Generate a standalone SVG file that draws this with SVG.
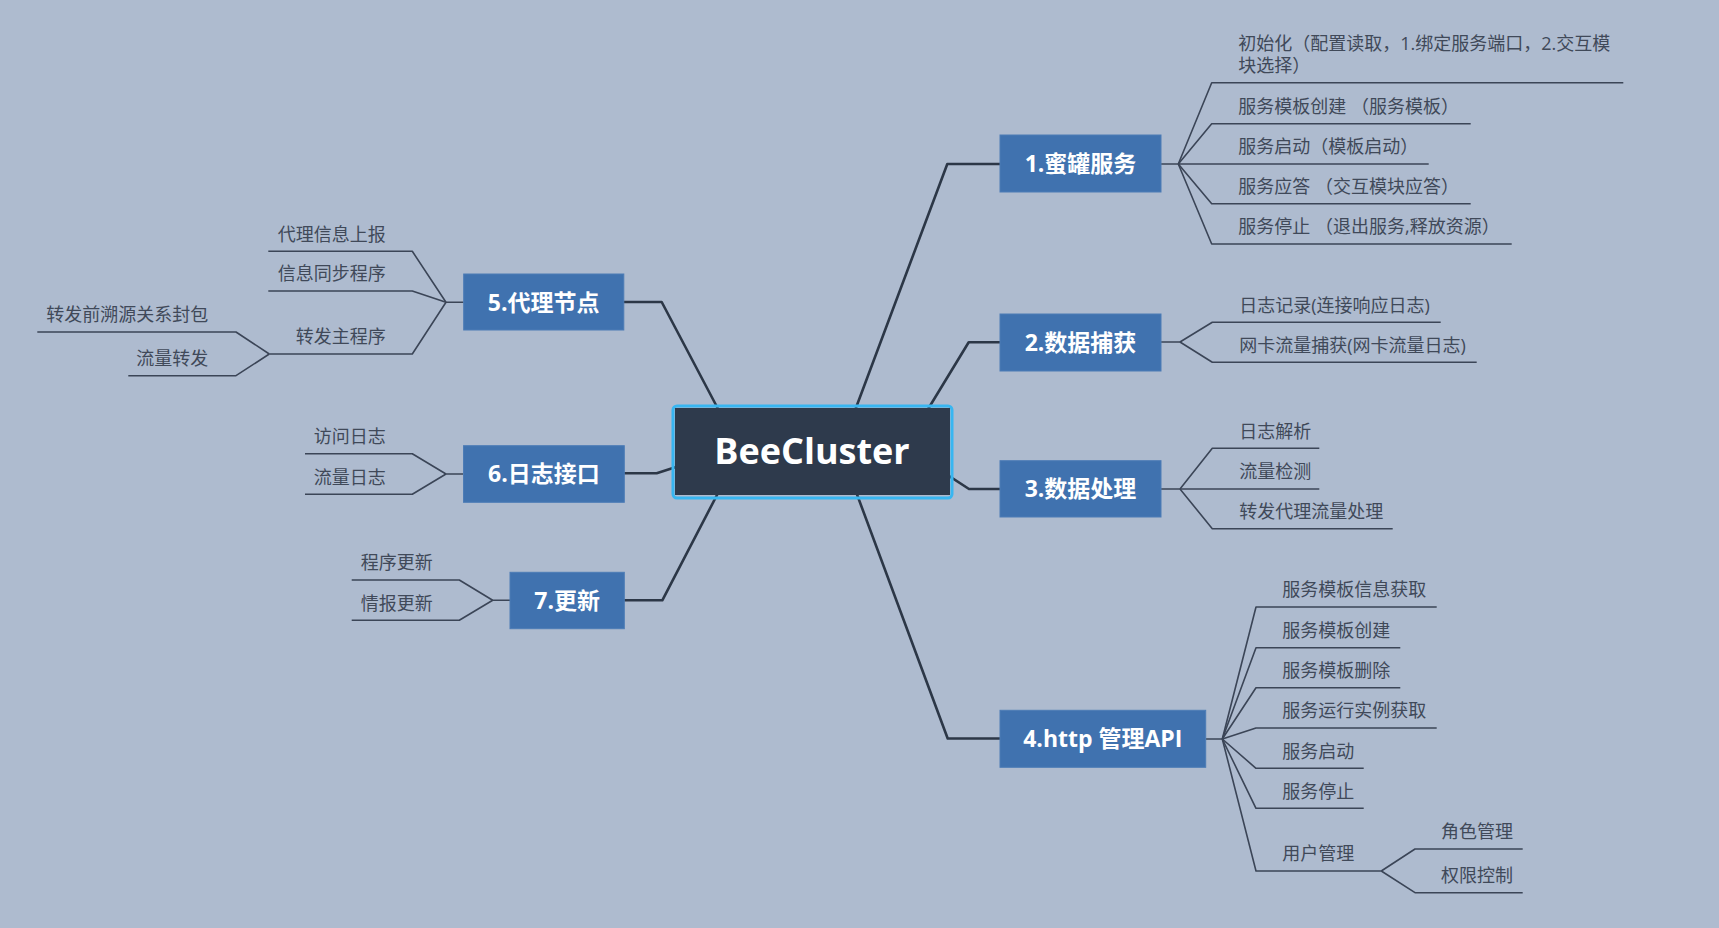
<svg xmlns="http://www.w3.org/2000/svg" width="1719" height="928" viewBox="0 0 1719 928">
<style>
.bg{fill:#aebbcf}
.main{fill:#4072af;stroke:#4d7cb6;stroke-width:1}
.mt{font-family:"Open Sans","Noto Sans CJK SC",sans-serif;font-weight:bold;font-size:23px;fill:#ffffff;text-anchor:middle}
.ct{font-family:"Open Sans","Noto Sans CJK SC",sans-serif;font-weight:bold;font-size:36px;fill:#ffffff;text-anchor:middle}
.st{font-family:"Open Sans","Noto Sans CJK SC",sans-serif;font-size:18px;fill:#404959}
.sr{text-anchor:start}
.sl{text-anchor:end}
.conn{fill:none;stroke:#2c3747;stroke-width:2.6;stroke-linejoin:round;stroke-linecap:round}
.sub{fill:none;stroke:#3b4557;stroke-width:1.6;stroke-linejoin:round}
</style>
<rect class="bg" x="0" y="0" width="1719" height="928"/>
<g id="connectors">
  <polyline class="conn" points="1000,164 947.3,164 851.4,420"/>
  <polyline class="conn" points="1000,342.3 968.7,342.3 921.4,420"/>
  <polyline class="conn" points="1000,489 969,489 940,470.1"/>
  <polyline class="conn" points="1000,738.5 947.7,738.5 853.5,485"/>
  <polyline class="conn" points="623.8,302 661.7,302 723.9,420"/>
  <polyline class="conn" points="624.3,473.3 656.7,473.3 690,462.4"/>
  <polyline class="conn" points="624.3,600.3 662.3,600.3 722.2,485"/>
  <!-- branch 1 -->
  <polyline class="sub" points="1161,164 1178.3,164 1211.7,82.7 1623.3,82.7"/>
  <polyline class="sub" points="1178.3,164 1211.7,123.7 1470.7,123.7"/>
  <polyline class="sub" points="1178.3,164 1428.7,164"/>
  <polyline class="sub" points="1178.3,164 1211.7,203.7 1470.7,203.7"/>
  <polyline class="sub" points="1178.3,164 1211.7,244 1511.7,244"/>
  <!-- branch 2 -->
  <polyline class="sub" points="1161,342 1180,342 1212.3,322.3 1440.7,322.3"/>
  <polyline class="sub" points="1180,342 1212.3,362.3 1476.7,362.3"/>
  <!-- branch 3 -->
  <polyline class="sub" points="1161,489 1180,489 1212.3,448.3 1319.3,448.3"/>
  <polyline class="sub" points="1180,489 1319.3,489"/>
  <polyline class="sub" points="1180,489 1212.3,528.7 1392.7,528.7"/>
  <!-- branch 4 -->
  <polyline class="sub" points="1205.7,739 1222.3,739 1256,607 1436.7,607"/>
  <polyline class="sub" points="1222.3,739 1256,647.7 1400.3,647.7"/>
  <polyline class="sub" points="1222.3,739 1256,687.7 1400.3,687.7"/>
  <polyline class="sub" points="1222.3,739 1256,728 1436.7,728"/>
  <polyline class="sub" points="1222.3,739 1256,768.3 1363.7,768.3"/>
  <polyline class="sub" points="1222.3,739 1256,808.3 1363.7,808.3"/>
  <polyline class="sub" points="1222.3,739 1256,871 1381.3,871"/>
  <polyline class="sub" points="1381.3,871 1415,849 1522.7,849"/>
  <polyline class="sub" points="1381.3,871 1415,892.7 1522.7,892.7"/>
  <!-- branch 5 -->
  <polyline class="sub" points="463.7,302.3 446,302.3 412.3,251.3 268.3,251.3"/>
  <polyline class="sub" points="446,302.3 412.3,291 268.3,291"/>
  <polyline class="sub" points="446,302.3 412.3,354 269.3,354"/>
  <polyline class="sub" points="269.3,354 236,332 37.3,332"/>
  <polyline class="sub" points="269.3,354 236,375.7 128.3,375.7"/>
  <!-- branch 6 -->
  <polyline class="sub" points="463.5,474 446,474 412.3,453.7 305,453.7"/>
  <polyline class="sub" points="446,474 412.3,494.3 305,494.3"/>
  <!-- branch 7 -->
  <polyline class="sub" points="510,600.3 492.7,600.3 459.3,580 351.7,580"/>
  <polyline class="sub" points="492.7,600.3 459.3,620.3 351.7,620.3"/>
</g>
<g id="center">
  <rect x="673" y="406" width="279" height="92" rx="4" fill="none" stroke="#38b6f1" stroke-width="3"/>
  <rect x="675" y="408" width="275" height="87" fill="#2e3a4c"/>
  <text class="ct" x="812" y="463.5">BeeCluster</text>
</g>
<g id="node1">
  <rect class="main" x="1000" y="135" width="161" height="57"/>
  <text class="mt" x="1080.5" y="172">1.蜜罐服务</text>
</g>
<g id="node1-subs">
  <text class="st sr" x="1238.3" y="50">初始化（配置读取，1.绑定服务端口，2.交互模</text>
  <text class="st sr" x="1238.3" y="71.6">块选择）</text>
  <text class="st sr" x="1238.3" y="113">服务模板创建 （服务模板）</text>
  <text class="st sr" x="1238.3" y="153.3">服务启动（模板启动）</text>
  <text class="st sr" x="1238.3" y="193">服务应答 （交互模块应答）</text>
  <text class="st sr" x="1238.3" y="233.3">服务停止 （退出服务,释放资源）</text>
</g>
<g id="node2">
  <rect class="main" x="1000" y="314" width="161" height="57"/>
  <text class="mt" x="1080.5" y="350.8">2.数据捕获</text>
</g>
<g id="node2-subs">
  <text class="st sr" x="1239.3" y="311.6">日志记录(连接响应日志)</text>
  <text class="st sr" x="1239.3" y="351.6">网卡流量捕获(网卡流量日志)</text>
</g>
<g id="node3">
  <rect class="main" x="1000" y="460.7" width="161" height="56.3"/>
  <text class="mt" x="1080.5" y="497.3">3.数据处理</text>
</g>
<g id="node3-subs">
  <text class="st sr" x="1239.3" y="437.6">日志解析</text>
  <text class="st sr" x="1239.3" y="478.3">流量检测</text>
  <text class="st sr" x="1239.3" y="518">转发代理流量处理</text>
</g>
<g id="node4">
  <rect class="main" x="1000" y="710.3" width="205.7" height="57"/>
  <text class="mt" x="1102.8" y="747.3">4.http 管理API</text>
</g>
<g id="node4-subs">
  <text class="st sr" x="1282.3" y="596.3">服务模板信息获取</text>
  <text class="st sr" x="1282.3" y="637">服务模板创建</text>
  <text class="st sr" x="1282.3" y="677">服务模板删除</text>
  <text class="st sr" x="1282.3" y="717.3">服务运行实例获取</text>
  <text class="st sr" x="1282.3" y="757.6">服务启动</text>
  <text class="st sr" x="1282.3" y="797.6">服务停止</text>
  <text class="st sr" x="1282.3" y="860.3">用户管理</text>
  <text class="st sr" x="1441" y="838.3">角色管理</text>
  <text class="st sr" x="1441" y="882">权限控制</text>
</g>
<g id="node5">
  <rect class="main" x="463.7" y="274" width="160.1" height="56"/>
  <text class="mt" x="543.7" y="310.5">5.代理节点</text>
</g>
<g id="node5-subs">
  <text class="st sl" x="385.7" y="240.6">代理信息上报</text>
  <text class="st sl" x="385.7" y="280.3">信息同步程序</text>
  <text class="st sl" x="385.7" y="343.3">转发主程序</text>
  <text class="st sl" x="208.3" y="321.3">转发前溯源关系封包</text>
  <text class="st sl" x="208.3" y="365">流量转发</text>
</g>
<g id="node6">
  <rect class="main" x="463.5" y="445.7" width="160.8" height="56.6"/>
  <text class="mt" x="543.9" y="482.3">6.日志接口</text>
</g>
<g id="node6-subs">
  <text class="st sl" x="385.7" y="443">访问日志</text>
  <text class="st sl" x="385.7" y="483.6">流量日志</text>
</g>
<g id="node7">
  <rect class="main" x="510" y="572.3" width="114.3" height="56.4"/>
  <text class="mt" x="567.2" y="608.8">7.更新</text>
</g>
<g id="node7-subs">
  <text class="st sl" x="432.7" y="569.3">程序更新</text>
  <text class="st sl" x="432.7" y="609.6">情报更新</text>
</g>
</svg>
